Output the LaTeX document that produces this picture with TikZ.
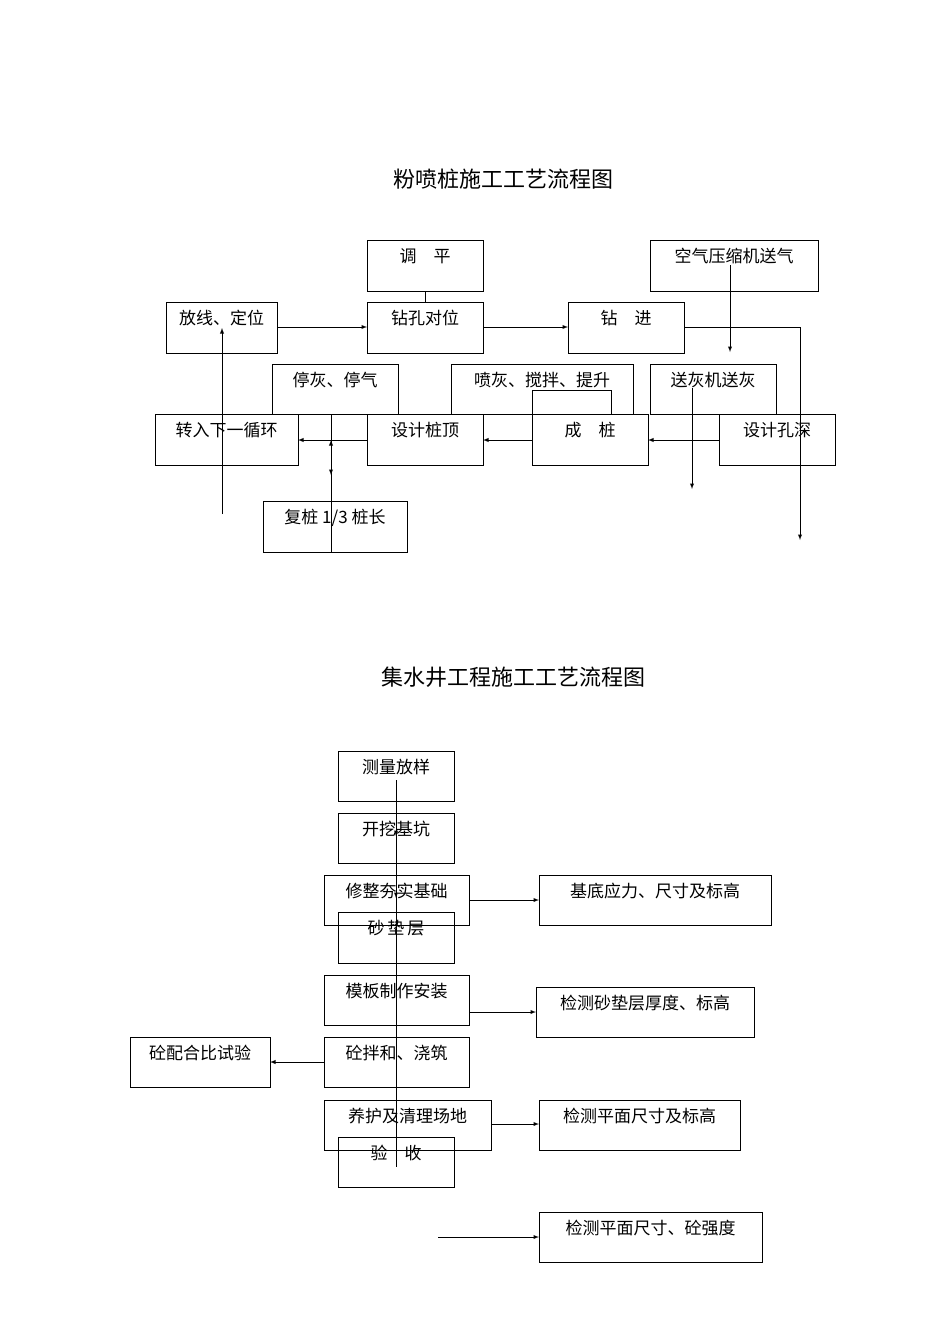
\documentclass[tikz,border=0pt]{standalone}
\usepackage{fontspec}
\setmainfont{Noto Sans CJK SC}
\newfontfamily\titlef{Noto Sans CJK SC}
\begin{document}
\begin{tikzpicture}[x=1pt,y=-1pt,>=latex,
  bx/.style={draw,line width=0.9pt},
  lb/.style={anchor=north,font=\fontsize{17}{17}\selectfont,inner sep=0pt},
  ln/.style={line width=0.9pt}]
\useasboundingbox (0,0) rectangle (950,1344);
\newcommand{\bbox}[6]{\draw[bx] (#2,#4) rectangle (#3,#5); \coordinate (#1) at ({(#2+#3)/2},#4); \node[lb] (#1t) at ([yshift=-8pt]#1) {#6};}
\node[font=\titlef\fontsize{22}{22}\selectfont] (t1) at (503,179) {粉喷桩施工工艺流程图};
\node[font=\titlef\fontsize{22}{22}\selectfont] (t2) at (513,677) {集水井工程施工工艺流程图};
% top
\bbox{tp}{367}{483}{240}{291}{调\quad 平}
\bbox{fx}{166}{277}{302}{353}{放线、定位}
\bbox{zk}{367}{483}{302}{353}{钻孔对位}
\bbox{zj}{568}{684}{302}{353}{钻\quad 进}
\bbox{ky}{650}{818}{240}{291}{空气压缩机送气}
\bbox{th}{272}{398}{364}{414}{停灰、停气}
\bbox{ph}{451}{633}{364}{414}{喷灰、搅拌、提升}
\draw[bx] (532,414) -- (532,390) -- (611,390) -- (611,414);
\bbox{sh}{650}{776}{364}{414}{送灰机送灰}
\bbox{zr}{155}{298}{414}{465}{转入下一循环}
\bbox{sz}{367}{483}{414}{465}{设计桩顶}
\bbox{cz}{532}{648}{414}{465}{成\quad 桩}
\bbox{ks}{719}{835}{414}{465}{设计孔深}
\bbox{fz}{263}{407}{501}{552}{复桩 1/3 桩长}
\draw[ln] (425,291) -- (425,302);
\draw[ln,->] (277,327) -- (367,327);
\draw[ln,->] (483,327) -- (568,327);
\draw[ln,->] (684,327) -- (800,327) -- (800,540);
\draw[ln,->] (730,265) -- (730,352);
\draw[ln,->] (692,388) -- (692,489);
\draw[ln,->] (719,440) -- (648,440);
\draw[ln,->] (532,440) -- (483,440);
\draw[ln,->] (367,440) -- (298,440);
\draw[ln] (331,414) -- (331,552);
\draw[ln,<->] (331,440) -- (331,475);
\draw[ln,->] (222,514) -- (222,328);
% bottom
\bbox{cl}{338}{454}{751}{801}{测量放样}
\bbox{kw}{338}{454}{813}{863}{开挖基坑}
\bbox{xz}{324}{469}{875}{925}{修整夯实基础}
\bbox{sd}{338}{454}{912}{963}{砂\,垫\,层}
\bbox{mb}{324}{469}{975}{1025}{模板制作安装}
\bbox{bh}{324}{469}{1037}{1087}{砼拌和、浇筑}
\bbox{ph2}{130}{270}{1037}{1087}{砼配合比试验}
\bbox{yh}{324}{491}{1100}{1150}{养护及清理场地}
\bbox{ys}{338}{454}{1137}{1187}{验\quad 收}
\bbox{jd}{539}{771}{875}{925}{基底应力、尺寸及标高}
\bbox{js}{536}{754}{987}{1037}{检测砂垫层厚度、标高}
\bbox{jp}{539}{740}{1100}{1150}{检测平面尺寸及标高}
\bbox{jq}{539}{762}{1212}{1262}{检测平面尺寸、砼强度}
\draw[ln] (396,780) -- (396,1167);
\draw[ln,->] (396,780) -- (396,836);
\draw[ln,->] (396,836) -- (396,898);
\draw[ln,->] (469,900) -- (539,900);
\draw[ln,->] (469,1012) -- (536,1012);
\draw[ln,->] (324,1062) -- (270,1062);
\draw[ln,->] (491,1124) -- (539,1124);
\draw[ln,->] (438,1237) -- (539,1237);
\end{tikzpicture}
\end{document}
